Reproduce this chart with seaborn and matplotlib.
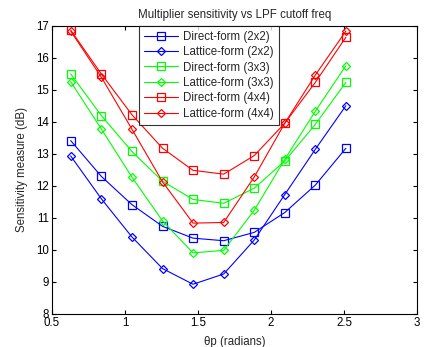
import numpy as np
import pandas as pd
import matplotlib
matplotlib.use("Agg")
import matplotlib.pyplot as plt
import seaborn as sns

theta = [0.628, 0.838, 1.047, 1.257, 1.466, 1.676, 1.885, 2.094, 2.304, 2.513]
direct_2x2 = [13.42, 12.30, 11.42, 10.74, 10.37, 10.29, 10.55, 11.17, 12.03, 13.18]
lattice_2x2 = [12.94, 11.60, 10.41, 9.42, 8.93, 9.25, 10.31, 11.73, 13.15, 14.51]
direct_3x3 = [15.50, 14.20, 13.08, 12.15, 11.58, 11.46, 11.93, 12.78, 13.93, 15.24]
lattice_3x3 = [15.26, 13.78, 12.28, 10.91, 9.91, 9.99, 11.24, 12.83, 14.34, 15.76]
direct_4x4 = [16.87, 15.50, 14.23, 13.18, 12.49, 12.37, 12.95, 13.96, 15.24, 16.65]
lattice_4x4 = [16.84, 15.40, 13.78, 12.13, 10.84, 10.86, 12.28, 13.96, 15.47, 16.84]

series = [
    ("Direct-form (2x2)", direct_2x2, "#0000ff", "s"),
    ("Lattice-form (2x2)", lattice_2x2, "#0000ff", "D"),
    ("Direct-form (3x3)", direct_3x3, "#00ff00", "s"),
    ("Lattice-form (3x3)", lattice_3x3, "#00ff00", "D"),
    ("Direct-form (4x4)", direct_4x4, "#ff0000", "s"),
    ("Lattice-form (4x4)", lattice_4x4, "#ff0000", "D"),
]

sns.set_theme(style="white")
plt.rcParams["font.family"] = ["Liberation Sans", "DejaVu Sans"]

FS = 8.3
fig = plt.figure(figsize=(4.30, 3.47), dpi=100)
ax = fig.add_axes([52/430, 1 - 314/347, 365/430, 288/347])

for name, vals, col, mk in series:
    df = pd.DataFrame({"theta": theta, "val": vals})
    ms = 5.5 if mk == "s" else 4.5
    sns.lineplot(data=df, x="theta", y="val", ax=ax, color=col, marker=mk,
                 markersize=ms, markerfacecolor="none", markeredgecolor=col,
                 markeredgewidth=0.9, linewidth=0.8, label=name)

ax.set_xlim(0.5, 3)
ax.set_ylim(8, 17)
ax.set_xticks([0.5, 1, 1.5, 2, 2.5, 3])
ax.set_xticklabels(["0.5", "1", "1.5", "2", "2.5", "3"])
ax.set_yticks(range(8, 18))
ax.tick_params(direction="in", length=3, width=0.8, labelsize=FS, colors="black",
               top=True, right=True, bottom=True, left=True, pad=2)
for s in ax.spines.values():
    s.set_color("black")
    s.set_linewidth(0.8)
ax.set_title("Multiplier sensitivity vs LPF cutoff freq", fontsize=FS, pad=6)
ax.set_xlabel("θp (radians)", fontsize=FS, labelpad=5)
ax.set_ylabel("Sensitivity measure (dB)", fontsize=FS, labelpad=6)

leg = ax.legend(loc="upper left", bbox_to_anchor=(87/365, 1.0), borderaxespad=0,
                fontsize=FS, frameon=True, fancybox=False, handlelength=3.0,
                labelspacing=0.3, borderpad=0.4, handletextpad=0.45)
leg.get_frame().set_edgecolor("black")
leg.get_frame().set_linewidth(0.8)

fig.savefig("out.png", dpi=100)
